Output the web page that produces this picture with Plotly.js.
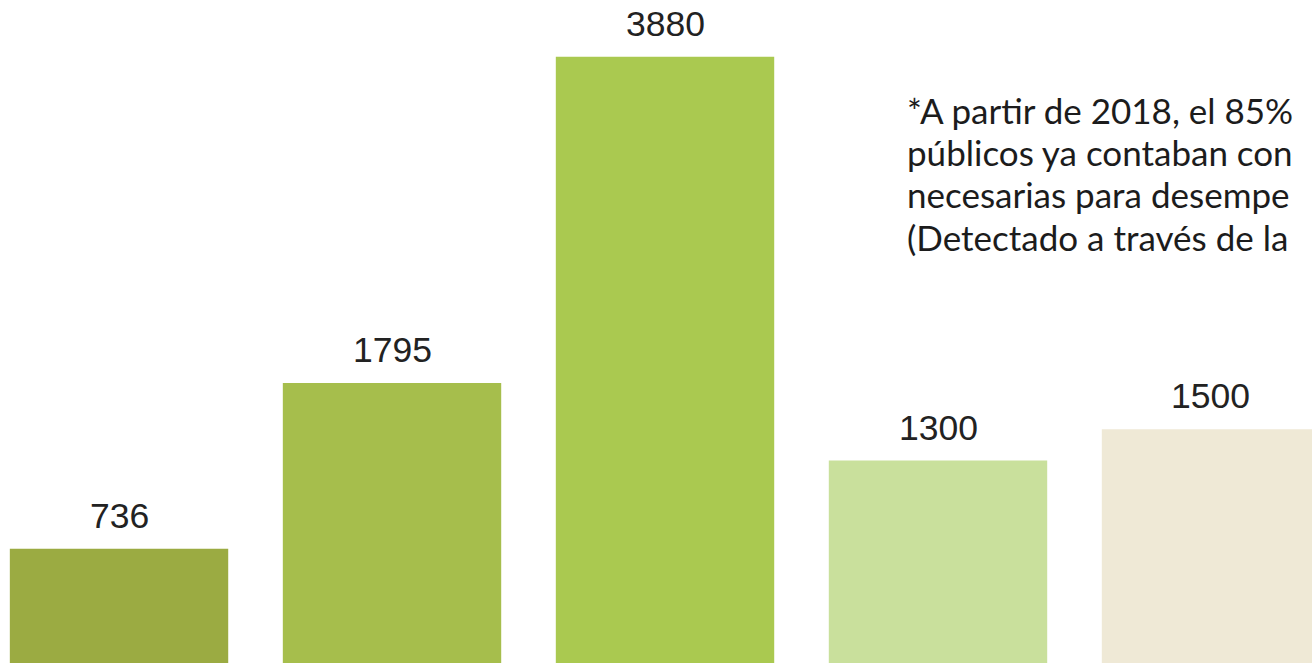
<!DOCTYPE html>
<html>
<head>
<meta charset="utf-8">
<script src="https://cdn.plot.ly/plotly-3.0.1.min.js"></script>
<style>
  html, body { margin: 0; padding: 0; background: #ffffff; overflow: hidden; }
  #chart { width: 1312px; height: 663px; }
</style>
</head>
<body>
<div id="chart"></div>
<script>
// ---- data ----
const categories = ["Periodo 1", "Periodo 2", "Periodo 3", "Periodo 4", "Periodo 5"];
const values = [736, 1795, 3880, 1300, 1500];
const barColors = ["#9bab42", "#a6be4c", "#aac950", "#c9e09c", "#efe9d6"];
const noteLines = [
  "*A partir de 2018, el 85%",
  "públicos ya contaban con",
  "necesarias para desempe",
  "(Detectado a través de la"
];

// ---- layout helpers ----
const W = 1312, H = 663;
const noteLeftPx = 905, noteFirstBaselinePx = 123, noteLineGapPx = 42.2, noteFont = 35;

const trace = {
  type: "bar",
  x: categories,
  y: values,
  width: 0.8,
  marker: { color: barColors, line: { width: 0 } },
  hoverinfo: "skip"
};

const valueAnnotations = categories.map((c, i) => ({
  x: c, y: values[i], xref: "x", yref: "y",
  text: String(values[i]),
  showarrow: false,
  yanchor: "bottom",
  yshift: 11,
  font: { family: "Liberation Sans, Arial, sans-serif", size: 35.5, color: "#222222" }
}));

const noteAnnotation = {
  xref: "paper", yref: "paper",
  x: noteLeftPx / W,
  y: 1 - (noteFirstBaselinePx - 0.987 * noteFont - 1) / H,
  xanchor: "left", yanchor: "top", align: "left",
  text: noteLines.join("<br>"), showarrow: false,
  font: { family: "Lato, 'Open Sans', sans-serif", size: noteFont, color: "#1c1c1c" }
};

const layout = {
  width: W, height: H,
  margin: { l: 0, r: 0, t: 0, b: 0, pad: 0 },
  paper_bgcolor: "#ffffff",
  plot_bgcolor: "#ffffff",
  showlegend: false,
  xaxis: {
    type: "category",
    range: [-0.436, 4.37],
    showticklabels: false, showgrid: false, zeroline: false, showline: false, ticks: ""
  },
  yaxis: {
    range: [6.4, 4243],
    showticklabels: false, showgrid: false, zeroline: false, showline: false, ticks: ""
  },
  annotations: valueAnnotations.concat([noteAnnotation])
};

Plotly.newPlot("chart", [trace], layout, { displayModeBar: false, staticPlot: true }).then(gd => {
  // set the note's line spacing to match the reference
  const idx = valueAnnotations.length;
  const lines = gd.querySelectorAll('.annotation[data-index="' + idx + '"] text tspan.line');
  lines.forEach((ts, i) => { ts.setAttribute("dy", i * noteLineGapPx); });
});
</script>
</body>
</html>
